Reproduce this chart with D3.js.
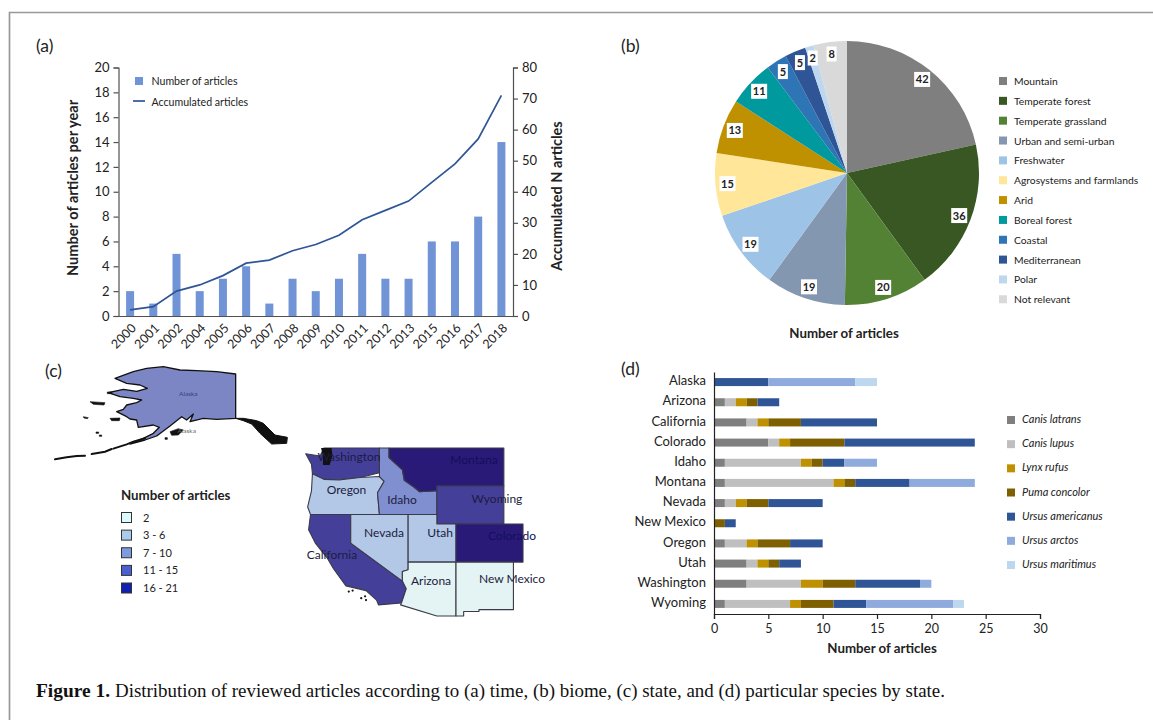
<!DOCTYPE html>
<html><head><meta charset="utf-8">
<script src="https://cdn.jsdelivr.net/npm/d3@7"></script>
<style>html,body{margin:0;padding:0;background:#fff}svg{display:block}text{font-family:Lato,sans-serif;fill:#222}</style>
</head><body><svg id="c" width="1153" height="720"></svg>
<script>
// (a)
const years=["2000","2001","2002","2004","2005","2006","2007","2008","2009","2010","2011","2012","2013","2015","2016","2017","2018"];
const perYear=[2,1,5,2,3,4,1,3,2,3,5,3,3,6,6,8,14];
const accumulated=[2,3,8,10,13,17,18,21,23,26,31,34,37,43,49,57,71];
// (b)
const biomes=["Mountain","Temperate forest","Temperate grassland","Urban and semi-urban","Freshwater","Agrosystems and farmlands","Arid","Boreal forest","Coastal","Mediterranean","Polar","Not relevant"];
const biomeValues=[42,36,20,19,19,15,13,11,5,5,2,8];
const biomeColors=["#7f7f7f","#385723","#548235","#8497b0","#9dc3e6","#ffe699","#bf9000","#00999e","#2e75b6","#2f5597","#bdd7ee","#d9d9d9"];
// (c)
const classLabels=["2","3 - 6","7 - 10","11 - 15","16 - 21"];
const classColors=["#e4f3f3","#b3c8e6","#7f8fd0","#44409a","#2a1a78"];
const legendColors=["#dcfafa","#a9cbec","#7f9be0","#4a5fd0","#1020b0"];
const stateNames=["Washington","Oregon","Idaho","Montana","Wyoming","California","Nevada","Utah","Colorado","Arizona","New Mexico"];
const stateClass=[3,1,2,4,3,3,1,1,4,0,0];
const stateShapes=[
 [[-124.7,48.4],[-123.2,48.15],[-122.8,49],[-117,49],[-117,46.4],[-119,45.9],[-121.2,45.65],[-122.8,45.7],[-124,46.3],[-124.1,47.3]],
 [[-124,46.3],[-122.8,45.7],[-121.2,45.65],[-119,45.9],[-117,46],[-116.5,45.5],[-117.2,44.3],[-117,42],[-124.2,42],[-124.5,42.8],[-124.1,44.5]],
 [[-117,49],[-116,49],[-116,48],[-114.6,46.7],[-114.4,45.6],[-113.4,44.9],[-112.8,44.4],[-111,44.5],[-111,42],[-117,42],[-117.2,44.3],[-116.5,45.5],[-117,46]],
 [[-116,49],[-104,49],[-104,45],[-111,45],[-111,44.5],[-112.8,44.4],[-113.4,44.9],[-114.4,45.6],[-114.6,46.7],[-116,48]],
 [[-111,45],[-104,45],[-104,41],[-111,41]],
 [[-124.2,42],[-120,42],[-120,39],[-114.6,35],[-114.2,34.2],[-114.7,32.7],[-117.1,32.5],[-117.3,33],[-118.4,34],[-120.5,34.5],[-121.8,36.3],[-122.5,37.5],[-123.7,39],[-124.4,40.4]],
 [[-120,42],[-114,42],[-114,36.2],[-114.6,36],[-114.6,35],[-120,39]],
 [[-114,42],[-111,42],[-111,41],[-109,41],[-109,37],[-114,37]],
 [[-109,41],[-102,41],[-102,37],[-109,37]],
 [[-114,37],[-109,37],[-109,31.33],[-111,31.33],[-114.8,32.5],[-114.7,32.7],[-114.2,34.2],[-114.6,35],[-114.6,36],[-114,36.2]],
 [[-109,37],[-103,37],[-103,32],[-106.6,32],[-106.6,31.8],[-108.2,31.8],[-108.2,31.33],[-109,31.33]]
];
const stateLabelSpots=[[-120.18,47.63],[-120.44,44.16],[-114.64,43.11],[-107.12,47.32],[-104.72,43.21],[-121.96,37.32],[-116.52,39.64],[-110.67,39.64],[-103.15,39.32],[-111.61,34.59],[-103.15,34.8]];
const channelIslands=[[-119.8,34],[-120.2,33.9],[-118.5,33.4],[-118.4,33],[-118.9,33.2]];
const pugetBlob=[[-123.1,49],[-122,49],[-121.9,48.2],[-122.2,47.2],[-122.9,47.2],[-122.9,48.2]];
// Alaska traced in the inset's own map units
const alaskaMain=[[617,72],[560,65],[500,62],[450,60],[400,50],[350,55],[310,65],[255,85],[290,100],[330,105],[352,115],[320,124],[280,118],[235,128],[270,140],[310,145],[335,150],[320,158],[290,165],[280,178],[260,185],[290,200],[300,207],[320,210],[325,232],[370,225],[388,232],[370,250],[340,265],[300,282],[345,270],[380,258],[420,228],[455,200],[470,210],[490,192],[480,215],[520,205],[560,208],[617,205]];
const alaskaPanhandle=[[617,205],[640,205],[680,212],[700,220],[735,255],[772,262],[770,280],[725,282],[690,250],[665,222],[640,212]];
const alaskaIslands=[
 [[180,155],[225,158],[222,165],[190,163]],
 [[240,205],[270,204],[268,212],[245,212]],
 [[160,200],[175,203],[172,206],[162,204]],
 [[420,245],[445,236],[460,240],[445,255],[425,256]],
 [[198,246],[206,246],[206,250],[198,250]],
 [[208,255],[215,255],[215,259],[208,259]],
 [[405,263],[412,263],[412,268],[405,268]],
 [[232,126],[246,126],[246,131],[232,131]]
];
const aleutianChains=[
 [[75,328],[110,322],[140,318],[165,317]],
 [[185,312],[225,305],[245,297]],
 [[250,296],[290,283],[310,275],[345,265]]
];
// (d)
const states=["Alaska","Arizona","California","Colorado","Idaho","Montana","Nevada","New Mexico","Oregon","Utah","Washington","Wyoming"];
const species=["Canis latrans","Canis lupus","Lynx rufus","Puma concolor","Ursus americanus","Ursus arctos","Ursus maritimus"];
const speciesColors=["#7f7f7f","#bfbfbf","#bf9000","#7f6000","#2f5597","#8faadc","#bdd7ee"];
const canisLatrans=[0,1,3,5,1,1,1,0,1,3,3,1];
const canisLupus=[0,1,1,1,7,10,1,0,2,1,5,6];
const lynxRufus=[0,1,1,1,1,1,1,0,1,1,2,1];
const pumaConcolor=[0,1,3,5,1,1,2,1,3,1,3,3];
const ursusAmericanus=[5,2,7,12,2,5,5,1,3,2,6,3];
const ursusArctos=[8,0,0,0,3,6,0,0,0,0,1,8];
const ursusMaritimus=[2,0,0,0,0,0,0,0,0,0,0,1];
const speciesSeries=[canisLatrans,canisLupus,lynxRufus,pumaConcolor,ursusAmericanus,ursusArctos,ursusMaritimus];

const svg=d3.select("#c");
function styleAxis(g,size,col){g.selectAll("path,line").attr("stroke",col||"#505050").attr("stroke-width",1.2);g.selectAll("text").attr("font-size",size).style("fill","#222");}
function label(t,x,y,size,extra){const e=svg.append("text").attr("x",x).attr("y",y).attr("font-size",size).text(t);if(extra)extra(e);return e;}

// frame
svg.append("path").attr("d","M1153 12.5H9.5V720").attr("fill","none").attr("stroke","#999").attr("stroke-width",1.7);
[["(a)",36,52],["(b)",621,52],["(c)",45,377],["(d)",621,375]].forEach(d=>label(d[0],d[1],d[2],17.5));

// panel a
const ax=d3.scaleBand().domain(years).range([118.5,513]);
const ayL=d3.scaleLinear().domain([0,20]).range([316,67.5]);
const ayR=d3.scaleLinear().domain([0,80]).range([316,67.5]);
const barW=8;
svg.append("g").selectAll("rect").data(perYear).join("rect")
 .attr("x",(d,i)=>ax(years[i])+ax.bandwidth()/2-barW/2).attr("width",barW)
 .attr("y",d=>ayL(d)).attr("height",d=>ayL(0)-ayL(d)).attr("fill","#7094d6");
svg.append("path").attr("d",d3.line().x((d,i)=>ax(years[i])+ax.bandwidth()/2).y(d=>ayR(d))(accumulated))
 .attr("fill","none").attr("stroke","#2f5597").attr("stroke-width",1.7);
svg.append("g").attr("transform","translate(118.5,0)").call(d3.axisLeft(ayL).ticks(10).tickSize(5).tickPadding(4).tickSizeOuter(5)).call(g=>styleAxis(g,13));
svg.append("g").attr("transform","translate(513,0)").call(d3.axisRight(ayR).ticks(8).tickSize(5).tickPadding(4).tickSizeOuter(5)).call(g=>styleAxis(g,13));
const gx=svg.append("g").attr("transform","translate(0,316)").call(d3.axisBottom(ax).tickSize(0).tickPadding(6)).call(g=>styleAxis(g,12.5));
gx.selectAll("text").attr("text-anchor","end").attr("transform","translate(-5,3) rotate(-45)").attr("dx","0.1em").attr("dy","0.75em");
label("Number of articles per year",78,188,14.6,e=>e.attr("text-anchor","middle").attr("font-weight","bold").attr("transform","rotate(-90 78 188)"));
label("Accumulated N articles",562,196,14.5,e=>e.attr("text-anchor","middle").attr("font-weight","bold").attr("transform","rotate(-90 562 196)"));
svg.append("rect").attr("x",135).attr("y",77).attr("width",8).attr("height",8).attr("fill","#7094d6");
label("Number of articles",151.5,85,10.6);
svg.append("line").attr("x1",133).attr("x2",145).attr("y1",101).attr("y2",101).attr("stroke","#2f5597").attr("stroke-width",1.7);
label("Accumulated articles",151.5,105.5,10.6);

// panel b
const pieCx=847,pieCy=173,pieR=132;
const arcs=d3.pie().sort(null)(biomeValues);
const arc=d3.arc().innerRadius(0).outerRadius(pieR);
const labelArc=d3.arc().innerRadius(120).outerRadius(120);
const gp=svg.append("g").attr("transform",`translate(${pieCx},${pieCy})`);
gp.selectAll("path").data(arcs).join("path").attr("d",arc).attr("fill",(d,i)=>biomeColors[i]);
arcs.forEach((d,i)=>{
 const [x,y]=labelArc.centroid(d);
 const t=String(biomeValues[i]);
 const w=t.length>1?16:10;
 gp.append("rect").attr("x",x-w/2).attr("y",y-7.5).attr("width",w).attr("height",15).attr("fill","#fff");
 gp.append("text").attr("x",x).attr("y",y+4).attr("text-anchor","middle").attr("font-size",11).attr("font-weight","bold").text(t);
});
const lb=d3.scalePoint().domain(biomes).range([81,299.3]);
biomes.forEach((b,i)=>{
 svg.append("rect").attr("x",999).attr("y",lb(b)-4).attr("width",8).attr("height",8).attr("fill",biomeColors[i]);
 label(b,1014,lb(b)+4,10.3);
});
label("Number of articles",844,338,13.3,e=>e.attr("text-anchor","middle").attr("font-weight","bold"));

// panel c
const lonUS=d3.scaleLinear().domain([-109,-102]).range([456,523]);
const latUS=d3.scaleLinear().domain([49,31.33]).range([448,616]);
const pathUS=d3.geoPath(d3.geoTransform({point(x,y){this.stream.point(lonUS(x),latUS(y));}}));
const akX=d3.scaleLinear().domain([0,810]).range([30,300]);
const akY=d3.scaleLinear().domain([0,810]).range([350,620]);
const pathAK=d3.geoPath(d3.geoTransform({point(x,y){this.stream.point(akX(x),akY(y));}}));
const poly=r=>({type:"Polygon",coordinates:[[...r,r[0]].reverse()]});
svg.append("path").attr("d",pathAK(poly(alaskaMain))).attr("fill","#7c86c4").attr("stroke","#111").attr("stroke-width",1.3).attr("stroke-linejoin","round");
svg.append("path").attr("d",pathAK(poly(alaskaPanhandle))).attr("fill","#111").attr("stroke","#111").attr("stroke-width",1);
svg.append("g").selectAll("path").data(alaskaIslands).join("path").attr("d",d=>pathAK(poly(d))).attr("fill","#111").attr("stroke","#111").attr("stroke-width",0.6);
svg.append("g").selectAll("path").data(aleutianChains).join("path").attr("d",d=>pathAK({type:"LineString",coordinates:d})).attr("fill","none").attr("stroke","#111").attr("stroke-width",2).attr("stroke-linecap","round");
svg.append("text").attr("x",akX(475)).attr("y",akY(139)).attr("font-size",6.5).attr("text-anchor","middle").style("fill","#34407e").text("Alaska");
svg.append("text").attr("x",akX(470)).attr("y",akY(250)).attr("font-size",6.5).attr("text-anchor","middle").style("fill","#666").text("Alaska");
svg.append("g").selectAll("path").data(stateShapes).join("path").attr("d",d=>pathUS(poly(d)))
 .attr("fill",(d,i)=>classColors[stateClass[i]]).attr("stroke","#3a3a4a").attr("stroke-width",1.1).attr("stroke-linejoin","round");
svg.append("path").attr("d",pathUS(poly(pugetBlob))).attr("fill","#111");
svg.append("g").selectAll("circle").data(channelIslands).join("circle").attr("cx",d=>lonUS(d[0])).attr("cy",d=>latUS(d[1])).attr("r",1.1).attr("fill","#111");
stateNames.forEach((n,i)=>{
 svg.append("text").attr("x",lonUS(stateLabelSpots[i][0])).attr("y",latUS(stateLabelSpots[i][1])).attr("text-anchor","middle").attr("font-size",12)
  .style("fill",stateClass[i]==4?"#120e5c":"#1c1c40").text(n);
});
label("Number of articles",121,500,13.3,e=>e.attr("font-weight","bold"));
const lc=d3.scalePoint().domain(classLabels).range([517.5,588]);
classLabels.forEach((c,i)=>{
 svg.append("rect").attr("x",121.5).attr("y",lc(c)-5).attr("width",10).attr("height",10).attr("fill",legendColors[i]).attr("stroke","#333").attr("stroke-width",1);
 label(c,143,lc(c)+4,11);
});

// panel d
const dx=d3.scaleLinear().domain([0,30]).range([714,1040]);
const dy=d3.scaleBand().domain(states).range([372,614]);
const stack=d3.stack().keys(d3.range(7)).value((row,k)=>row[k])(states.map((s,i)=>speciesSeries.map(a=>a[i])));
const barH=8;
svg.append("g").selectAll("g").data(stack).join("g").attr("fill",(d,i)=>speciesColors[i])
 .selectAll("rect").data(d=>d).join("rect")
 .attr("x",d=>dx(d[0])).attr("width",d=>dx(d[1])-dx(d[0]))
 .attr("y",(d,i)=>dy(states[i])+dy.bandwidth()/2-barH/2).attr("height",barH);
const gy=svg.append("g").attr("transform","translate(714,0)").call(d3.axisLeft(dy).tickSize(0).tickPadding(8)).call(g=>styleAxis(g,13,"#222"));
gy.selectAll("text").attr("transform","translate(0,-1)");
svg.append("g").attr("transform","translate(0,614)").call(d3.axisBottom(dx).ticks(6).tickSize(5).tickPadding(5).tickSizeOuter(5)).call(g=>styleAxis(g,12.5,"#222"));
label("Number of articles",882,653,13.3,e=>e.attr("text-anchor","middle").attr("font-weight","bold"));
const ld=d3.scalePoint().domain(species).range([420,565]);
species.forEach((s,i)=>{
 svg.append("rect").attr("x",1007).attr("y",ld(s)-4).attr("width",8).attr("height",8).attr("fill",speciesColors[i]);
 label(s,1022,ld(s)+3,11,e=>e.attr("font-style","italic"));
});

// caption
const capFont="'Liberation Serif',serif";
svg.append("text").attr("x",36).attr("y",697).attr("font-size",18.5).attr("font-weight","bold").style("font-family",capFont).style("fill","#111").attr("textLength",74).attr("lengthAdjust","spacingAndGlyphs").text("Figure 1.");
svg.append("text").attr("x",115).attr("y",697).attr("font-size",18.5).style("font-family",capFont).style("fill","#111").attr("textLength",830).attr("lengthAdjust","spacingAndGlyphs").text("Distribution of reviewed articles according to (a) time, (b) biome, (c) state, and (d) particular species by state.");
</script></body></html>
